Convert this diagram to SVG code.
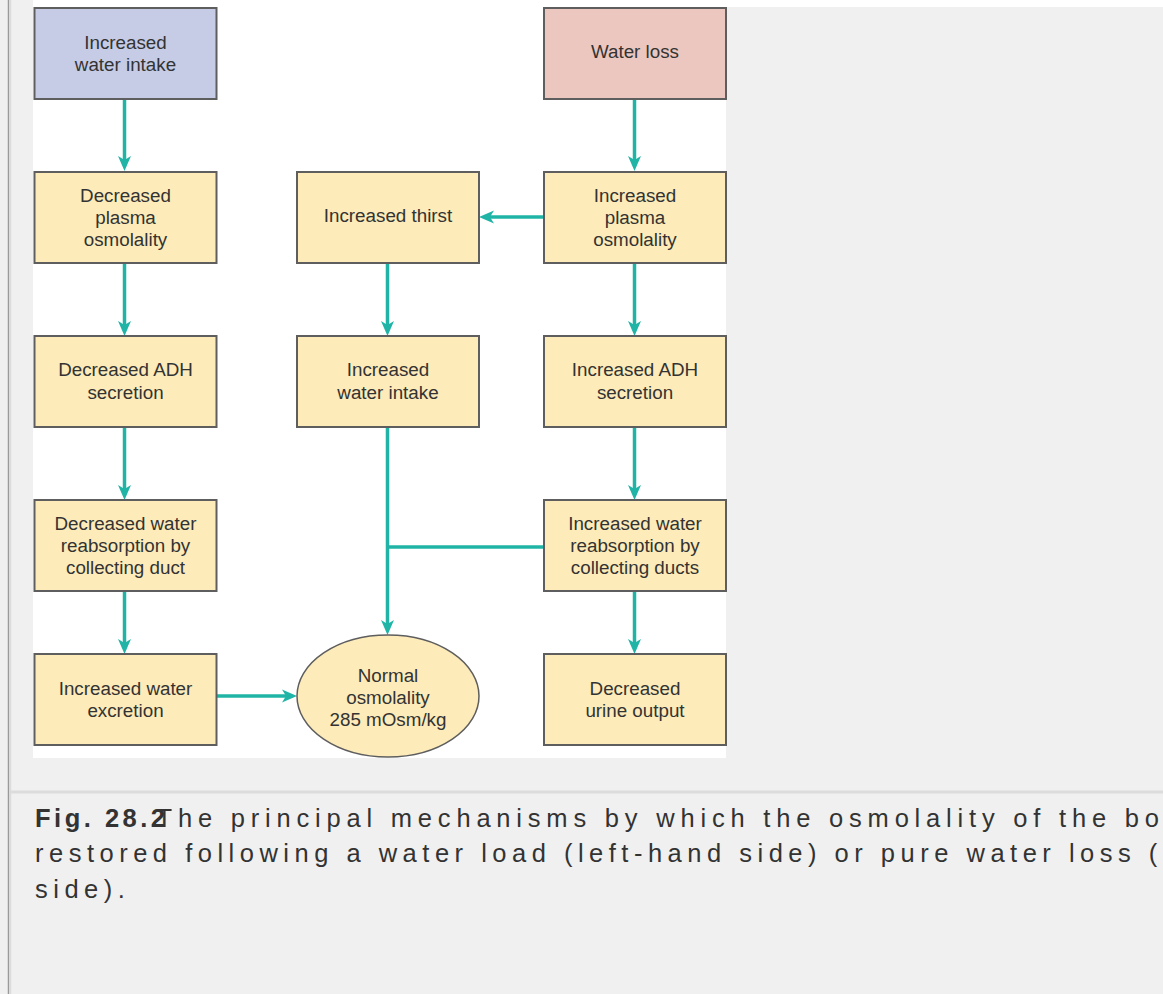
<svg xmlns="http://www.w3.org/2000/svg" width="1163" height="994" viewBox="0 0 1163 994">
<style>
.bx{stroke:#5e5e5e;stroke-width:2}
.y{fill:#fdebb9}
.b{fill:#c6cce6}
.p{fill:#ecc7bf}
.t{font-family:"Liberation Sans",Arial,sans-serif;font-size:18.8px;fill:#333;text-anchor:middle}
.c{fill:none;stroke:#20b4a6;stroke-width:3.5}
.cap{font-family:"Liberation Sans",Arial,sans-serif;font-size:25.5px;fill:#333;letter-spacing:5.5px}
</style>
<defs>
<marker id="ah" viewBox="-8 -7 17 14" markerWidth="17" markerHeight="14" refX="0" refY="0" orient="auto" markerUnits="userSpaceOnUse">
<path d="M8,0 L-7,-6.5 L-3,0 L-7,6.5 Z" fill="#20b4a6"/>
</marker>
</defs>
<rect width="1163" height="994" fill="#f0f0f0"/>
<rect x="33" y="0" width="1130" height="7" fill="#fff"/>
<rect x="33" y="0" width="693" height="758" fill="#fff"/>
<line x1="8.5" y1="0" x2="8.5" y2="994" stroke="#9a9a9a" stroke-width="1.5"/>
<line x1="10.5" y1="0" x2="10.5" y2="994" stroke="#dcdcdc" stroke-width="1.5"/>
<line x1="11" y1="792" x2="1163" y2="792" stroke="#dcdcdc" stroke-width="3"/>

<g id="connectors">
<path class="c" marker-end="url(#ah)" d="M124.5,99 V163"/>
<path class="c" marker-end="url(#ah)" d="M124.5,264 V328"/>
<path class="c" marker-end="url(#ah)" d="M124.5,428 V492"/>
<path class="c" marker-end="url(#ah)" d="M124.5,592 V646"/>
<path class="c" marker-end="url(#ah)" d="M634.5,99 V163"/>
<path class="c" marker-end="url(#ah)" d="M634.5,264 V328"/>
<path class="c" marker-end="url(#ah)" d="M634.5,428 V492"/>
<path class="c" marker-end="url(#ah)" d="M634.5,592 V646"/>
<path class="c" marker-end="url(#ah)" d="M544,217 H487"/>
<path class="c" marker-end="url(#ah)" d="M387.5,264 V328"/>
<path class="c" marker-end="url(#ah)" d="M387.5,428 V627"/>
<path class="c" d="M544,547 H387.5"/>
<path class="c" marker-end="url(#ah)" d="M217,696 H289"/>
</g>

<g id="n1"><rect class="bx b" x="34.5" y="8" width="182" height="91"/><text class="t" x="125.5" y="49">Increased</text><text class="t" x="125.5" y="71">water intake</text></g>
<g id="n2"><rect class="bx y" x="34.5" y="172" width="182" height="91"/><text class="t" x="125.5" y="202">Decreased</text><text class="t" x="125.5" y="224">plasma</text><text class="t" x="125.5" y="246">osmolality</text></g>
<g id="n3"><rect class="bx y" x="34.5" y="336" width="182" height="91"/><text class="t" x="125.5" y="376">Decreased ADH</text><text class="t" x="125.5" y="399">secretion</text></g>
<g id="n4"><rect class="bx y" x="34.5" y="500" width="182" height="91"/><text class="t" x="125.5" y="530">Decreased water</text><text class="t" x="125.5" y="552">reabsorption by</text><text class="t" x="125.5" y="574">collecting duct</text></g>
<g id="n5"><rect class="bx y" x="34.5" y="654" width="182" height="91"/><text class="t" x="125.5" y="695">Increased water</text><text class="t" x="125.5" y="717">excretion</text></g>

<g id="m1"><rect class="bx y" x="297" y="172" width="182" height="91"/><text class="t" x="388" y="222">Increased thirst</text></g>
<g id="m2"><rect class="bx y" x="297" y="336" width="182" height="91"/><text class="t" x="388" y="376">Increased</text><text class="t" x="388" y="399">water intake</text></g>
<g id="m3"><ellipse class="y" cx="388" cy="696" rx="91" ry="61" stroke="#5e5e5e" stroke-width="1.5"/><text class="t" x="388" y="682">Normal</text><text class="t" x="388" y="704">osmolality</text><text class="t" x="388" y="726">285 mOsm/kg</text></g>

<g id="r1"><rect class="bx p" x="544" y="8" width="182" height="91"/><text class="t" x="635" y="58">Water loss</text></g>
<g id="r2"><rect class="bx y" x="544" y="172" width="182" height="91"/><text class="t" x="635" y="202">Increased</text><text class="t" x="635" y="224">plasma</text><text class="t" x="635" y="246">osmolality</text></g>
<g id="r3"><rect class="bx y" x="544" y="336" width="182" height="91"/><text class="t" x="635" y="376">Increased ADH</text><text class="t" x="635" y="399">secretion</text></g>
<g id="r4"><rect class="bx y" x="544" y="500" width="182" height="91"/><text class="t" x="635" y="530">Increased water</text><text class="t" x="635" y="552">reabsorption by</text><text class="t" x="635" y="574">collecting ducts</text></g>
<g id="r5"><rect class="bx y" x="544" y="654" width="182" height="91"/><text class="t" x="635" y="695">Decreased</text><text class="t" x="635" y="717">urine output</text></g>

<g id="caption">
<text class="cap" x="35" y="827"><tspan font-weight="bold" letter-spacing="3.5">Fig. 28.2</tspan><tspan dx="-12" letter-spacing="5.8">The principal mechanisms by which the osmolality of the bo</tspan></text>
<text class="cap" x="35" y="862">restored following a water load (left-hand side) or pure water loss (</text>
<text class="cap" x="35" y="898">side).</text>
</g>
</svg>
